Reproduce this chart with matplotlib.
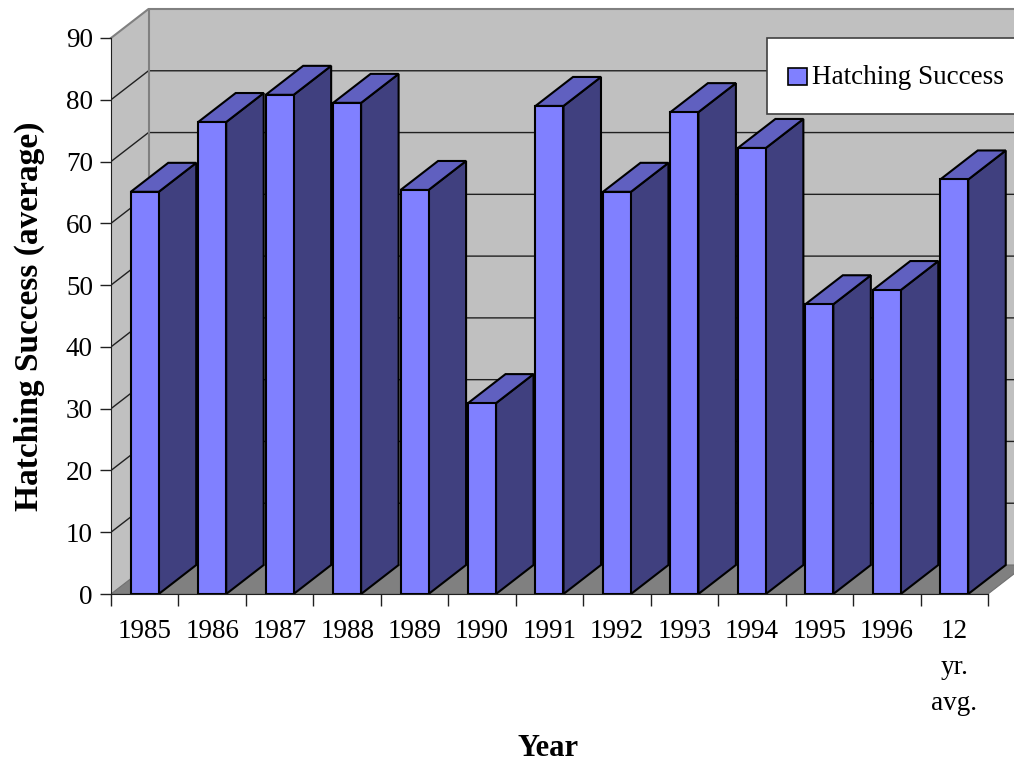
import matplotlib
matplotlib.use("Agg")
import matplotlib.pyplot as plt
from matplotlib.patches import Polygon, Rectangle

categories = ["1985", "1986", "1987", "1988", "1989", "1990", "1991", "1992",
              "1993", "1994", "1995", "1996", "12\nyr.\navg."]
values = [65.1, 76.4, 80.8, 79.5, 65.4, 30.9, 79.0, 65.1, 78.0, 72.2, 46.9, 49.2, 67.1]
yticks = [0, 10, 20, 30, 40, 50, 60, 70, 80, 90]
series_name = "Hatching Success"
xlabel = "Year"
ylabel = "Hatching Success (average)"

W, H = 1014, 763
plt.rcParams['font.family'] = ['Liberation Serif', 'DejaVu Serif']
fig = plt.figure(figsize=(W / 100, H / 100), dpi=100)
fig.patch.set_facecolor('white')

# axes placement in pixels
ax_l, ax_r, ax_b, ax_t = 111, 1014, 594, 9
ax = fig.add_axes([ax_l / W, 1 - ax_b / H, (ax_r - ax_l) / W, (ax_b - ax_t) / H])
cat_px = 67.46
unit_px = 556 / 90.0
n = len(categories)
x0 = -0.5
xmax = x0 + (ax_r - ax_l) / cat_px
ymax = (ax_b - ax_t) / unit_px
ax.set_xlim(x0, xmax)
ax.set_ylim(0, ymax)
ax.set_facecolor('none')

ddx = 37.5 / cat_px
ddy = 29.0 / unit_px
xend = n - 0.5
top = yticks[-1]

# walls
wall_c = '#C0C0C0'
ax.add_patch(Polygon([(x0, 0), (x0 + ddx, ddy), (x0 + ddx, top + ddy), (x0, top)],
                     closed=True, facecolor=wall_c, edgecolor='none', zorder=0))
ax.add_patch(Polygon([(x0 + ddx, ddy), (xend + ddx, ddy), (xend + ddx, top + ddy), (x0 + ddx, top + ddy)],
                     closed=True, facecolor=wall_c, edgecolor='none', zorder=0))
# gridlines
for v in yticks[1:-1]:
    ax.plot([x0, x0 + ddx, xend + ddx], [v, v + ddy, v + ddy], color='#202020', lw=1.0, zorder=0.5,
            solid_capstyle='butt')
# wall borders
ax.plot([x0, x0 + ddx, xend + ddx], [top, top + ddy, top + ddy], color='#808080', lw=1.5, zorder=0.6,
        clip_on=False)
ax.plot([x0 + ddx, x0 + ddx], [ddy, top + ddy], color='#808080', lw=1.5, zorder=0.6)
# floor
ax.add_patch(Polygon([(x0, 0), (x0 + ddx, ddy), (xend + ddx, ddy), (xend, 0)],
                     closed=True, facecolor='#808080', edgecolor='#707070', lw=0.8, zorder=1))

# bars
w = 0.415
xs = list(range(n))
bars = ax.bar(xs, values, width=w, color='#8080FF', edgecolor='black', linewidth=1.5, zorder=3)
for i, (b, v) in enumerate(zip(bars, values)):
    xl = b.get_x()
    xr = xl + b.get_width()
    h = b.get_height()
    side = Polygon([(xr, 0), (xr + ddx, ddy), (xr + ddx, h + ddy), (xr, h)], closed=True,
                   facecolor='#40407F', edgecolor='black', lw=1.5, zorder=2.5, joinstyle='miter')
    topf = Polygon([(xl, h), (xr, h), (xr + ddx, h + ddy), (xl + ddx, h + ddy)], closed=True,
                   facecolor='#6060C0', edgecolor='black', lw=1.5, zorder=2.5, joinstyle='miter')
    ax.add_patch(side)
    ax.add_patch(topf)

# spines and ticks
for s in ['top', 'right']:
    ax.spines[s].set_visible(False)
ax.spines['left'].set_bounds(0, top)
ax.spines['bottom'].set_bounds(x0, xend)
ax.spines['left'].set_color('#202020')
ax.spines['bottom'].set_color('#202020')
ax.spines['left'].set_zorder(4)
ax.spines['bottom'].set_zorder(4)
ax.set_yticks(yticks)
ax.set_yticklabels([str(t) for t in yticks])
ax.tick_params(axis='y', direction='out', length=8, width=1, pad=5, labelsize=19.5, color='#202020')
ax.set_xticks([i - 0.5 for i in range(n + 1)])
ax.set_xticklabels([])
ax.set_xticks(xs, minor=True)
ax.set_xticklabels(categories, minor=True, linespacing=1.57, va='top')
ax.tick_params(axis='x', which='major', direction='out', length=8.5, width=1, color='#202020')
ax.tick_params(axis='x', which='minor', length=0, pad=18, labelsize=19.5)

# axis titles
fig.text(29 / W, 1 - 316 / H, ylabel, rotation=90, ha='center', va='center',
         fontsize=24, fontweight='bold')
fig.text(548 / W, 1 - 748 / H, xlabel, ha='center', va='center', fontsize=22, fontweight='bold')

# legend
lx0, ly0, lx1, ly1 = 767, 38, 1030, 114
fig.add_artist(Rectangle((lx0 / W, 1 - ly1 / H), (lx1 - lx0) / W, (ly1 - ly0) / H,
                         transform=fig.transFigure, facecolor='white', edgecolor='#404040', lw=1.2))
fig.add_artist(Rectangle((788 / W, 1 - 85 / H), 19 / W, 17 / H, transform=fig.transFigure,
                         facecolor='#8080FF', edgecolor='black', lw=1.2))
fig.text(812 / W, 1 - 77 / H, series_name, ha='left', va='center', fontsize=19.5)

fig.savefig('out.png', dpi=100)
